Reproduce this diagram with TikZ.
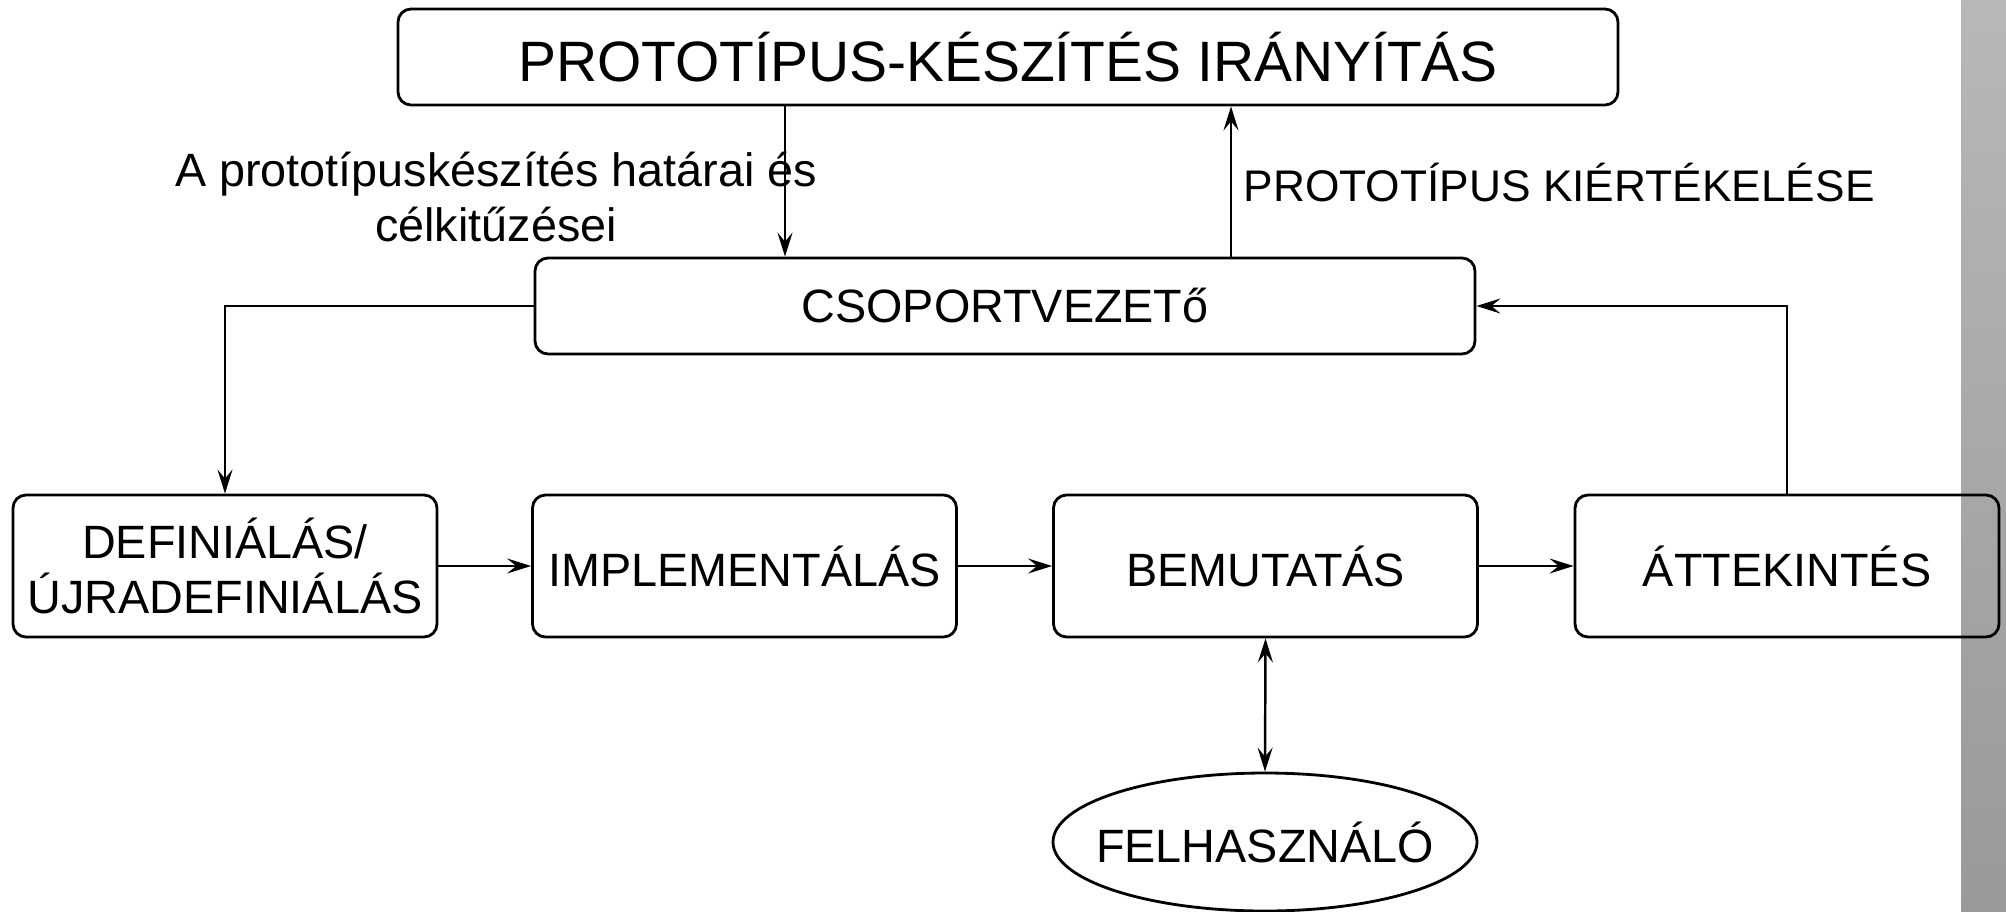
\documentclass[tikz,border=0pt]{standalone}
\usepackage{fontspec}
\setmainfont{Liberation Sans}
\usetikzlibrary{arrows.meta,shapes.geometric}

\begin{document}
\begin{tikzpicture}[
    >={Stealth[length=2.4mm,width=1.5mm,inset=0.9mm]},
    box/.style={draw, rectangle, rounded corners=1.3mm, line width=0.8pt, align=center, inner sep=0pt,
                font=\fontsize{13.3}{15.5}\selectfont, minimum width=4.24cm, minimum height=1.42cm},
    lbl/.style={align=center, inner sep=0pt, font=\fontsize{13.3}{15.5}\selectfont},
    arr/.style={->, line width=0.7pt}]
  \useasboundingbox (0,0) rectangle (20.06,9.11);
  % gray strip at the right
  \shade[top color=black!28, bottom color=black!40] (19.61,0) rectangle (20.06,9.11);

  \node[box, minimum width=12.2cm, minimum height=0.96cm, font=\fontsize{16.2}{19}\selectfont] (ctrl) at (10.08,8.54) {PROTOTÍPUS-KÉSZÍTÉS IRÁNYÍTÁS};
  \node[box, minimum width=9.4cm, minimum height=0.96cm] (lead) at (10.05,6.05) {CSOPORTVEZETő};
  \node[box] (def) at (2.25,3.45) {DEFINIÁLÁS/\\ÚJRADEFINIÁLÁS};
  \node[box] (impl) at (7.445,3.45) {IMPLEMENTÁLÁS};
  \node[box] (demo) at (12.655,3.45) {BEMUTATÁS};
  \node[box] (review) at (17.87,3.45) {ÁTTEKINTÉS};
  \node[draw, ellipse, line width=0.8pt, inner sep=0pt, minimum width=4.24cm, minimum height=1.38cm,
        font=\fontsize{13.3}{15.5}\selectfont] (user) at (12.65,0.69) {\makebox[2.9cm]{FELHASZNÁLÓ}};

  \node[lbl] (goals) at (4.96,7.14) {A prototípuskészítés határai és\\célkitűzései};
  \node[lbl, anchor=west, font=\fontsize{12.6}{15}\selectfont] (eval) at (12.43,7.28) {PROTOTÍPUS KIÉRTÉKELÉSE};

  \draw[arr] (7.85,0 |- ctrl.south) -- (7.85,0 |- lead.north);
  \draw[arr] (12.31,0 |- lead.north) -- (12.31,0 |- ctrl.south);
  \draw[arr] (lead.west) -| (def.north);
  \draw[arr] (review.north) |- (lead.east);
  \draw[arr] (def.east) -- (impl.west);
  \draw[arr] (impl.east) -- (demo.west);
  \draw[arr] (demo.east) -- (review.west);
  \draw[arr, <->] (demo.south) -- (user.north);
\end{tikzpicture}
\end{document}
